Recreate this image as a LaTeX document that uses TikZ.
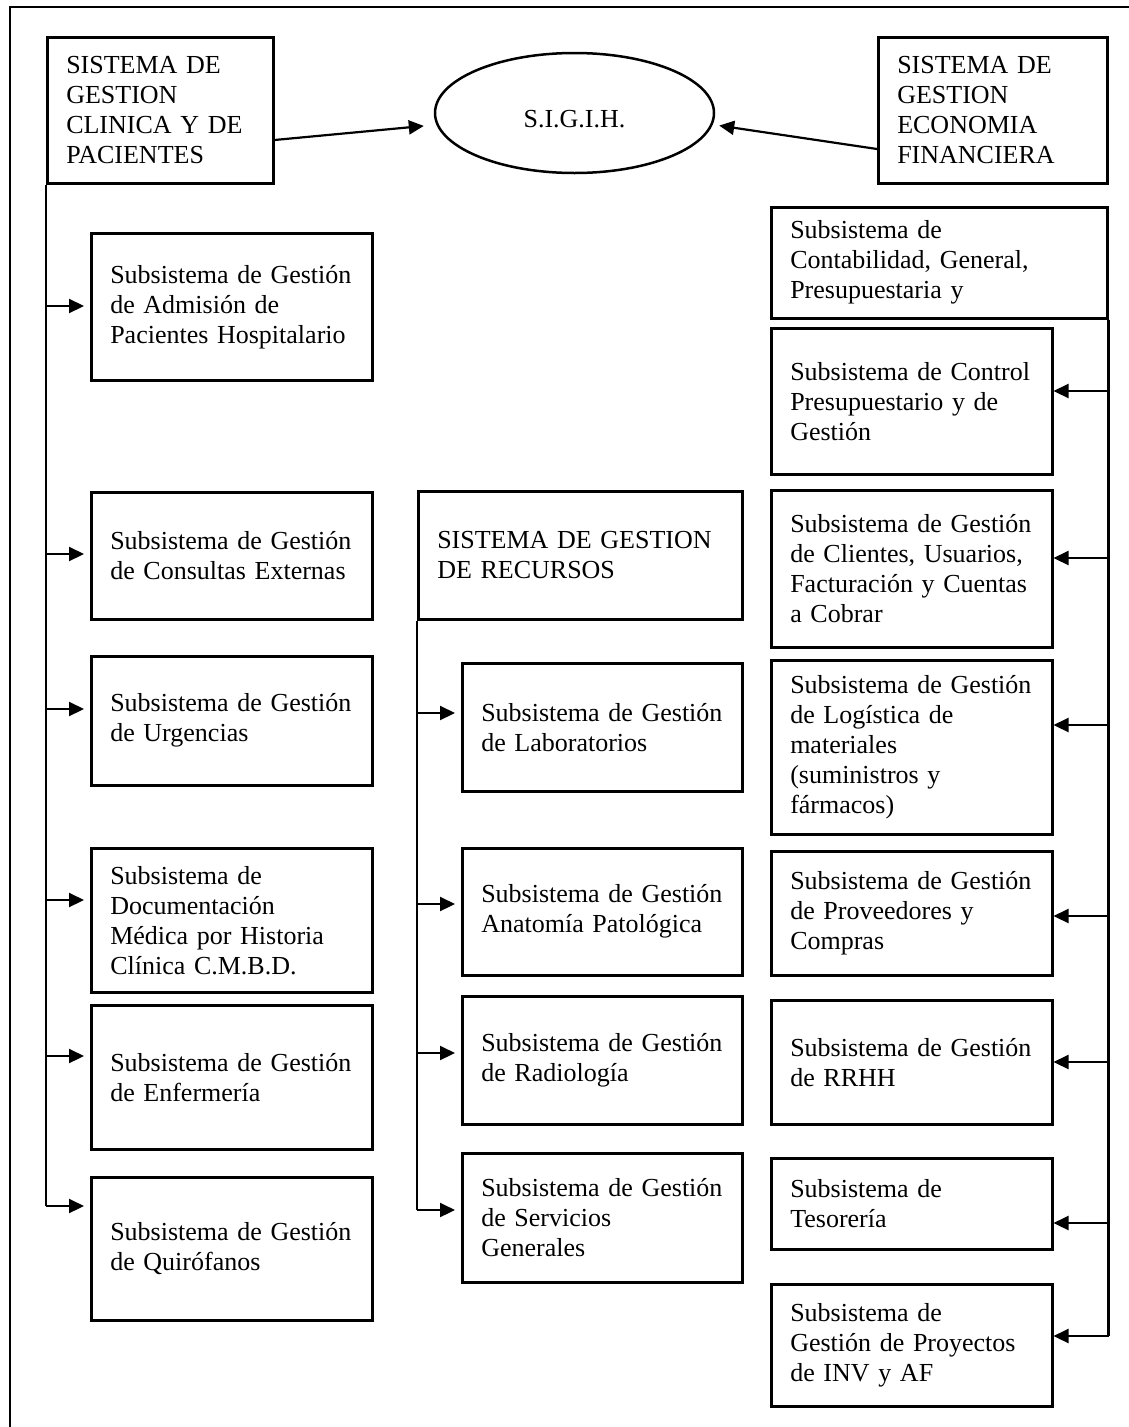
\documentclass[tikz,border=0pt]{standalone}
\usepackage{fontspec}
\setmainfont{Liberation Serif}
\usetikzlibrary{shapes.geometric,arrows.meta}

\tikzset{
  box/.style={draw, line width=2.5pt, anchor=north west, align=left,
    inner xsep=19pt, inner ysep=0pt, font=\fontsize{26}{30}\selectfont},
  link/.style={line width=2.2pt}
}

\begin{document}
\begin{tikzpicture}[x=1pt, y=-1pt, >={Triangle[length=15pt,width=14pt]}]
    \useasboundingbox (0,0) rectangle (1128,1427);
    \draw[line width=2pt] (10,1440) -- (10,7) -- (1140,7);

    \node[box, text width=188pt, minimum height=146pt] (clinica) at (46,36) {SISTEMA DE\\GESTION\\CLINICA Y DE\\PACIENTES};
    \node[ellipse, draw, line width=2.5pt, minimum width=279pt, minimum height=120pt, inner sep=0pt, text height=29pt, text depth=0pt, font=\fontsize{26}{30}\selectfont] (sigih) at (574.5,113) {S.I.G.I.H.};
    \node[box, text width=191pt, minimum height=146pt] (economia) at (877,36) {SISTEMA DE\\GESTION\\ECONOMIA\\FINANCIERA};
    \draw[link,->,shorten >=10pt] (clinica.east |- 0,140) -- (sigih.west |- 0,125);
    \draw[link,->,shorten >=4pt] (economia.west |- 0,149) -- (sigih.east |- 0,125);

    \node[box, text width=243pt, minimum height=147pt] (admision) at (90,232) {Subsistema de Gestión\\de Admisión de\\Pacientes Hospitalario};
    \node[box, text width=243pt, minimum height=127pt] (consultas) at (90,491) {Subsistema de Gestión\\de Consultas Externas};
    \node[box, text width=243pt, minimum height=129pt] (urgencias) at (90,655) {Subsistema de Gestión\\de Urgencias};
    \node[box, text width=243pt, minimum height=144pt] (documentacion) at (90,847) {Subsistema de\\Documentación\\Médica por Historia\\Clínica C.M.B.D.};
    \node[box, text width=243pt, minimum height=144pt] (enfermeria) at (90,1004) {Subsistema de Gestión\\de Enfermería};
    \node[box, text width=243pt, minimum height=143pt] (quirofanos) at (90,1176) {Subsistema de Gestión\\de Quirófanos};
    \draw[link] (clinica.south west) -- (clinica.south west |- 0,1206);
    \draw[link,->,shorten >=6pt] (clinica.south west |- 0,306) -- (admision.west |- 0,306);
    \draw[link,->,shorten >=6pt] (clinica.south west |- 0,554) -- (consultas.west |- 0,554);
    \draw[link,->,shorten >=6pt] (clinica.south west |- 0,709) -- (urgencias.west |- 0,709);
    \draw[link,->,shorten >=6pt] (clinica.south west |- 0,900) -- (documentacion.west |- 0,900);
    \draw[link,->,shorten >=6pt] (clinica.south west |- 0,1056) -- (enfermeria.west |- 0,1056);
    \draw[link,->,shorten >=6pt] (clinica.south west |- 0,1206) -- (quirofanos.west |- 0,1206);

    \node[box, text width=286pt, minimum height=128pt] (recursos) at (417,490) {SISTEMA DE GESTION\\DE RECURSOS};
    \node[box, text width=242pt, minimum height=128pt] (laboratorios) at (461,662) {Subsistema de Gestión\\de Laboratorios};
    \node[box, text width=242pt, minimum height=127pt] (anatomia) at (461,847) {Subsistema de Gestión\\Anatomía Patológica};
    \node[box, text width=242pt, minimum height=128pt] (radiologia) at (461,995) {Subsistema de Gestión\\de Radiología};
    \node[box, text width=242pt, minimum height=129pt] (servicios) at (461,1152) {Subsistema de Gestión\\de Servicios\\Generales};
    \draw[link] (recursos.south west) -- (recursos.south west |- 0,1210);
    \draw[link,->,shorten >=6pt] (recursos.south west |- 0,713) -- (laboratorios.west |- 0,713);
    \draw[link,->,shorten >=6pt] (recursos.south west |- 0,904) -- (anatomia.west |- 0,904);
    \draw[link,->,shorten >=6pt] (recursos.south west |- 0,1053) -- (radiologia.west |- 0,1053);
    \draw[link,->,shorten >=6pt] (recursos.south west |- 0,1210) -- (servicios.west |- 0,1210);

    \node[box, text width=298pt, minimum height=111pt] (contabilidad) at (770,206) {Subsistema de\\Contabilidad, General,\\Presupuestaria y};
    \node[box, text width=243pt, minimum height=146pt] (control) at (770,327) {Subsistema de Control\\Presupuestario y de\\Gestión};
    \node[box, text width=243pt, minimum height=157pt] (clientes) at (770,489) {Subsistema de Gestión\\de Clientes, Usuarios,\\Facturación y Cuentas\\a Cobrar};
    \node[box, text width=243pt, minimum height=174pt] (logistica) at (770,659) {Subsistema de Gestión\\de Logística de\\materiales\\(suministros y\\fármacos)};
    \node[box, text width=243pt, minimum height=124pt] (proveedores) at (770,850) {Subsistema de Gestión\\de Proveedores y\\Compras};
    \node[box, text width=243pt, minimum height=124pt] (rrhh) at (770,999) {Subsistema de Gestión\\de RRHH};
    \node[box, text width=243pt, minimum height=91pt] (tesoreria) at (770,1157) {Subsistema de\\Tesorería};
    \node[box, text width=243pt, minimum height=122pt] (proyectos) at (770,1283) {Subsistema de\\Gestión de Proyectos\\de INV y AF};
    \draw[link] (contabilidad.south east) -- (contabilidad.south east |- 0,1336);
    \draw[link,->] (contabilidad.south east |- 0,391) -- (control.east |- 0,391);
    \draw[link,->] (contabilidad.south east |- 0,558) -- (clientes.east |- 0,558);
    \draw[link,->] (contabilidad.south east |- 0,725) -- (logistica.east |- 0,725);
    \draw[link,->] (contabilidad.south east |- 0,916) -- (proveedores.east |- 0,916);
    \draw[link,->] (contabilidad.south east |- 0,1062) -- (rrhh.east |- 0,1062);
    \draw[link,->] (contabilidad.south east |- 0,1223) -- (tesoreria.east |- 0,1223);
    \draw[link,->] (contabilidad.south east |- 0,1336) -- (proyectos.east |- 0,1336);
\end{tikzpicture}
\end{document}
